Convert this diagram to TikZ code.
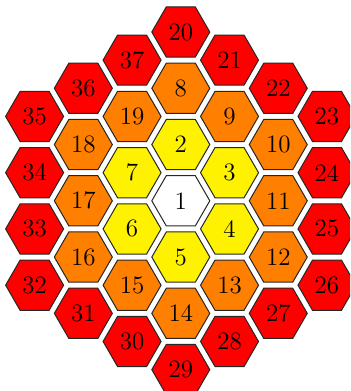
\documentclass[tikz,border=0pt]{standalone}
\begin{document}
\begin{tikzpicture}[x=0.5pt,y=-0.5pt,
  hexfill/.style={draw=black!85,line width=0.5pt,fill=#1},
  hexlabel/.style={inner sep=0pt,font=\fontsize{12.5}{15}\selectfont}]
\useasboundingbox (0,0) rectangle (350,391);
\clip (0,0) rectangle (350,391);
\def\R{29}
\foreach \n/\c/\k/\col in {
  1/0/0/white,
  2/0/-2/yellow, 3/1/-1/yellow, 4/1/1/yellow, 5/0/2/yellow, 6/-1/1/yellow, 7/-1/-1/yellow,
  8/0/-4/orange, 9/1/-3/orange, 10/2/-2/orange, 11/2/0/orange, 12/2/2/orange, 13/1/3/orange,
  14/0/4/orange, 15/-1/3/orange, 16/-2/2/orange, 17/-2/0/orange, 18/-2/-2/orange, 19/-1/-3/orange,
  20/0/-6/red, 21/1/-5/red, 22/2/-4/red, 23/3/-3/red, 24/3/-1/red, 25/3/1/red, 26/3/3/red,
  27/2/4/red, 28/1/5/red, 29/0/6/red, 30/-1/5/red, 31/-2/4/red, 32/-3/3/red, 33/-3/1/red,
  34/-3/-1/red, 35/-3/-3/red, 36/-2/-4/red, 37/-1/-5/red}{
  \coordinate (c\n) at ({180.8+\c*48.73},{200.8+\k*28.135});
  \path[hexfill=\col] (c\n) ++(0:\R) -- ++(120:\R) -- ++(180:\R) -- ++(240:\R) -- ++(300:\R) -- ++(0:\R) -- cycle;
  \node[hexlabel] (n\n) at (c\n) {\n};
}
\end{tikzpicture}
\end{document}
